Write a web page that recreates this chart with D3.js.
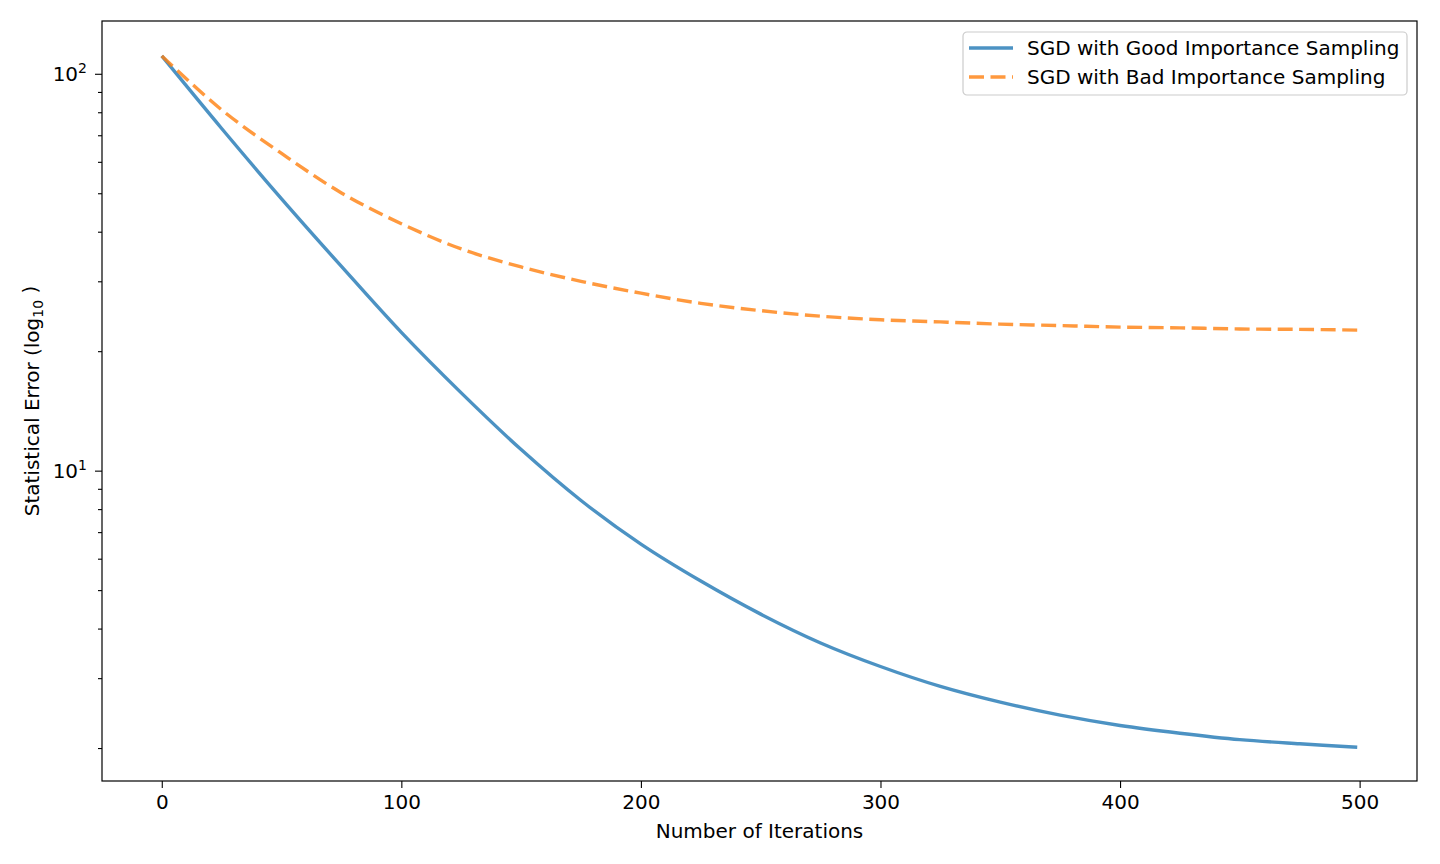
<!DOCTYPE html>
<html>
<head>
<meta charset="utf-8">
<script src="https://cdn.jsdelivr.net/npm/d3@7"></script>
<style>
    body { margin: 0; background: #fff; }
    text { font-family: "DejaVu Sans", sans-serif; }
</style>
</head>
<body>
<div id="chart-area"></div>
<script>
// values
const iterations = [0, 25, 50, 75, 100, 125, 150, 175, 200, 225, 250, 275, 300, 325, 350, 375, 400, 425, 450, 475, 499];
const goodError = [110.9, 72.8, 48.4, 32.7, 22.3, 15.7, 11.3, 8.41, 6.53, 5.27, 4.35, 3.68, 3.21, 2.86, 2.61, 2.42, 2.28, 2.18, 2.10, 2.05, 2.01];
const badError = [110.9, 81.1, 63.0, 50.1, 41.9, 36.2, 32.6, 30.0, 28.0, 26.4, 25.3, 24.5, 24.0, 23.7, 23.4, 23.2, 23.0, 22.9, 22.75, 22.7, 22.6];
const seriesNames = ["SGD with Good Importance Sampling", "SGD with Bad Importance Sampling"];
const xTicks = [0, 100, 200, 300, 400, 500];
const yMajor = [10, 100];

const margin = { left: 102, right: 23, top: 21, bottom: 83 };
const width = 1440 - margin.left - margin.right;
const height = 864 - margin.top - margin.bottom;

const svg = d3.select("#chart-area")
    .append("svg")
    .attr("width", 1440)
    .attr("height", 864);

const g = svg.append("g")
    .attr("transform", "translate(" + margin.left + "," + margin.top + ")");

// matplotlib style 5% margins
const x = d3.scaleLinear()
    .domain([-24.95, 523.95])
    .range([0, width]);

const y = d3.scaleLog()
    .domain([Math.pow(10, 0.218), Math.pow(10, 2.133)])
    .range([height, 0]);

// minor ticks for log axis
const yMinor = [];
[1, 10].forEach(function(dec) {
    for (let k = 2; k <= 9; k++) {
        const v = k * dec;
        if (v > y.domain()[0] && v < y.domain()[1]) yMinor.push(v);
    }
});

// X Axis
g.append("g")
    .attr("transform", "translate(0," + height + ")")
    .call(d3.axisBottom(x).tickValues(xTicks).tickSize(7).tickPadding(7).tickFormat(d3.format("d")));

// Y Axis minor
g.append("g")
    .call(d3.axisLeft(y).tickValues(yMinor).tickSize(4).tickFormat(""));

// Y Axis major
const yAxis = g.append("g")
    .call(d3.axisLeft(y).tickValues(yMajor).tickSize(7).tickPadding(8).tickFormat(""));

yAxis.selectAll(".tick text")
    .each(function(d) {
        const t = d3.select(this);
        t.text("10");
        t.append("tspan")
            .attr("dy", "-0.55em")
            .attr("font-size", "14px")
            .text(Math.round(Math.log10(d)));
    });

g.selectAll(".tick line").attr("stroke", "#000").attr("stroke-width", 1.1);
g.selectAll(".tick text").attr("font-size", "20px").attr("fill", "#000")
    .attr("font-family", "DejaVu Sans, sans-serif");
g.selectAll(".domain").remove();

// frame
g.append("rect")
    .attr("width", width)
    .attr("height", height)
    .attr("fill", "none")
    .attr("stroke", "#000")
    .attr("stroke-width", 1.2);

// Lines
const line = function(values) {
    return d3.line()
        .x(function(d, i) { return x(iterations[i]); })
        .y(function(d) { return y(d); })
        .curve(d3.curveCatmullRom)(values);
};

g.append("path")
    .attr("d", line(goodError))
    .attr("fill", "none")
    .attr("stroke", "#1f77b4")
    .attr("stroke-opacity", 0.8)
    .attr("stroke-width", 3.4);

g.append("path")
    .attr("d", line(badError))
    .attr("fill", "none")
    .attr("stroke", "#ff7f0e")
    .attr("stroke-opacity", 0.8)
    .attr("stroke-width", 3.4)
    .attr("stroke-dasharray", "15,6.5");

// X Label
g.append("text")
    .attr("x", width / 2)
    .attr("y", height + 57)
    .attr("font-size", "20px")
    .attr("text-anchor", "middle")
    .text("Number of Iterations");

// Y Label
const yLabel = g.append("text")
    .attr("transform", "translate(" + (-63) + "," + (height / 2) + ") rotate(-90)")
    .attr("font-size", "20px")
    .attr("text-anchor", "middle");
yLabel.append("tspan").text("Statistical Error (log");
yLabel.append("tspan").attr("dy", "0.3em").attr("font-size", "14px").text("10");
yLabel.append("tspan").attr("dy", "-0.3em").text(" )");

// Legend
const legend = g.append("g")
    .attr("transform", "translate(" + (width - 454) + ",11)");

legend.append("rect")
    .attr("width", 444)
    .attr("height", 63)
    .attr("rx", 4)
    .attr("fill", "#fff")
    .attr("fill-opacity", 0.8)
    .attr("stroke", "#ccc")
    .attr("stroke-width", 1.2);

const colors = ["#1f77b4", "#ff7f0e"];
const dashes = [null, "15,6.5"];
seriesNames.forEach(function(name, i) {
    const row = legend.append("g").attr("transform", "translate(0," + (16 + i * 29) + ")");
    row.append("line")
        .attr("x1", 6).attr("x2", 50)
        .attr("stroke", colors[i])
        .attr("stroke-opacity", 0.8)
        .attr("stroke-width", 3.4)
        .attr("stroke-dasharray", dashes[i]);
    row.append("text")
        .attr("x", 64)
        .attr("y", 7)
        .attr("font-size", "20px")
        .text(name);
});
</script>
</body>
</html>
